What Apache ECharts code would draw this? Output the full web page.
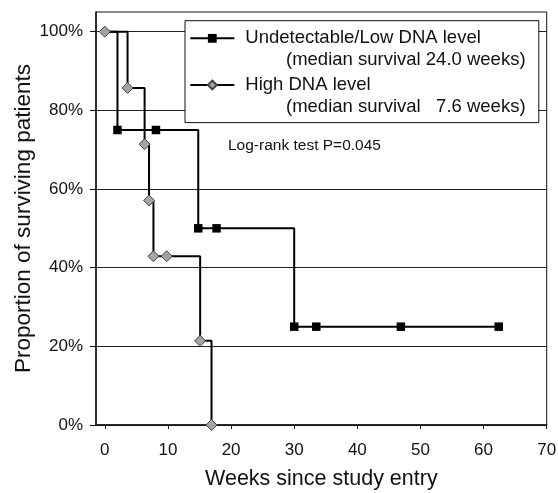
<!DOCTYPE html>
<html><head><meta charset="utf-8">
<script src="https://cdn.jsdelivr.net/npm/echarts@6/dist/echarts.min.js"></script>
<style>html,body{margin:0;padding:0;background:#fff}#c{width:558px;height:493px}</style>
</head><body><div id="c"></div>
<script>
const xTicks = [0, 10, 20, 30, 40, 50, 60, 70];
const yTicks = [0, 0.2, 0.4, 0.6, 0.8, 1.0];
const lowWeeks = [0, 2.0, 8.1, 14.8, 17.7, 30.0, 33.5, 46.9, 62.4];
const lowSurvival = [1, 0.75, 0.75, 0.5, 0.5, 0.25, 0.25, 0.25, 0.25];
const highWeeks = [0, 3.6, 6.3, 7.0, 7.7, 9.8, 15.1, 16.9];
const highSurvival = [1, 0.857, 0.714, 0.571, 0.429, 0.429, 0.214, 0];
const seriesNames = ['Undetectable/Low DNA level', 'High DNA level'];
const medianNotes = ['(median survival 24.0 weeks)', '(median survival   7.6 weeks)'];
const testNote = 'Log-rank test P=0.045';
const xTitle = 'Weeks since study entry';
const yTitle = 'Proportion of surviving patients';

const FONT = '"Liberation Sans", Arial, sans-serif';
const chart = echarts.init(document.getElementById('c'), null, {renderer: 'canvas'});

const lowData = lowWeeks.map((w, i) => i === 0 ? {value: [w, lowSurvival[i]], symbol: 'none'} : [w, lowSurvival[i]]);
const highData = highWeeks.map((w, i) => [w, highSurvival[i]]);

chart.setOption({
  animation: false,
  backgroundColor: '#fff',
  grid: {left: 96, top: 12, right: 11.3, bottom: 68, show: true, borderColor: '#111', borderWidth: 1,
    backgroundColor: 'transparent', containLabel: false, outerBoundsMode: 'none'},
  xAxis: {
    type: 'value', min: -1.4, max: 70, splitNumber: 7,
    name: xTitle, nameLocation: 'middle', nameGap: 43.5, nameMoveOverlap: false,
    nameTextStyle: {fontFamily: FONT, fontSize: 21.5, color: '#111'},
    axisLine: {show: true, onZero: false, lineStyle: {color: '#111', width: 1.5}},
    axisTick: {show: true, length: 4, lineStyle: {color: '#111'}, customValues: xTicks},
    axisLabel: {fontFamily: FONT, fontSize: 17, color: '#111', margin: 17, customValues: xTicks,
      formatter: v => Math.abs(v - Math.round(v)) < 1e-6 ? String(Math.round(v)) : ''},
    splitLine: {show: false}
  },
  yAxis: {
    type: 'value', min: 0, max: 1.05, interval: 0.2,
    name: yTitle, nameLocation: 'middle', nameGap: 61, nameRotate: 90, nameMoveOverlap: false,
    nameTextStyle: {fontFamily: FONT, fontSize: 22.5, color: '#111'},
    axisLine: {show: true, onZero: false, lineStyle: {color: '#111', width: 1.5}},
    axisTick: {show: true, length: 6, lineStyle: {color: '#111'}, customValues: yTicks},
    axisLabel: {fontFamily: FONT, fontSize: 17, color: '#111', margin: 13, customValues: yTicks,
      formatter: v => Math.round(v * 100) + '%'},
    splitLine: {show: true, lineStyle: {color: '#222', width: 1}}
  },
  legend: {
    orient: 'vertical', left: 185, top: 20.7,
    data: seriesNames,
    itemWidth: 44, itemHeight: 11, itemGap: 23.3,
    padding: [6, 58, 26, 4.3],
    backgroundColor: '#fff', borderColor: '#111', borderWidth: 1,
    textStyle: {fontFamily: FONT, fontSize: 18.5, color: '#111', lineHeight: 23.3, padding: [0, 0, 0, 6]},
    selectedMode: false
  },
  graphic: [
    {type: 'text', left: 286, top: 61.7 - 11, z: 100, style: {text: medianNotes[0], font: '18.5px ' + FONT, fill: '#111'}},
    {type: 'text', left: 286, top: 108.3 - 11, z: 100, style: {text: medianNotes[1], font: '18.5px ' + FONT, fill: '#111'}},
    {type: 'text', left: 228, top: 146.7 - 9, z: 100, style: {text: testNote, font: '15.5px ' + FONT, fill: '#111'}}
  ],
  series: [
    {
      name: seriesNames[0], type: 'line', step: 'end', data: lowData, clip: false,
      symbol: 'rect', symbolSize: 8.5, showAllSymbol: true,
      lineStyle: {color: '#000', width: 2},
      itemStyle: {color: '#000', borderColor: '#000', borderWidth: 0},
      z: 3
    },
    {
      name: seriesNames[1], type: 'line', step: 'end', data: highData, clip: false,
      symbol: 'diamond', symbolSize: 11, showAllSymbol: true,
      lineStyle: {color: '#000', width: 2},
      itemStyle: {color: '#a4a4a4', borderColor: '#444', borderWidth: 1},
      z: 4
    }
  ]
});
</script></body></html>
